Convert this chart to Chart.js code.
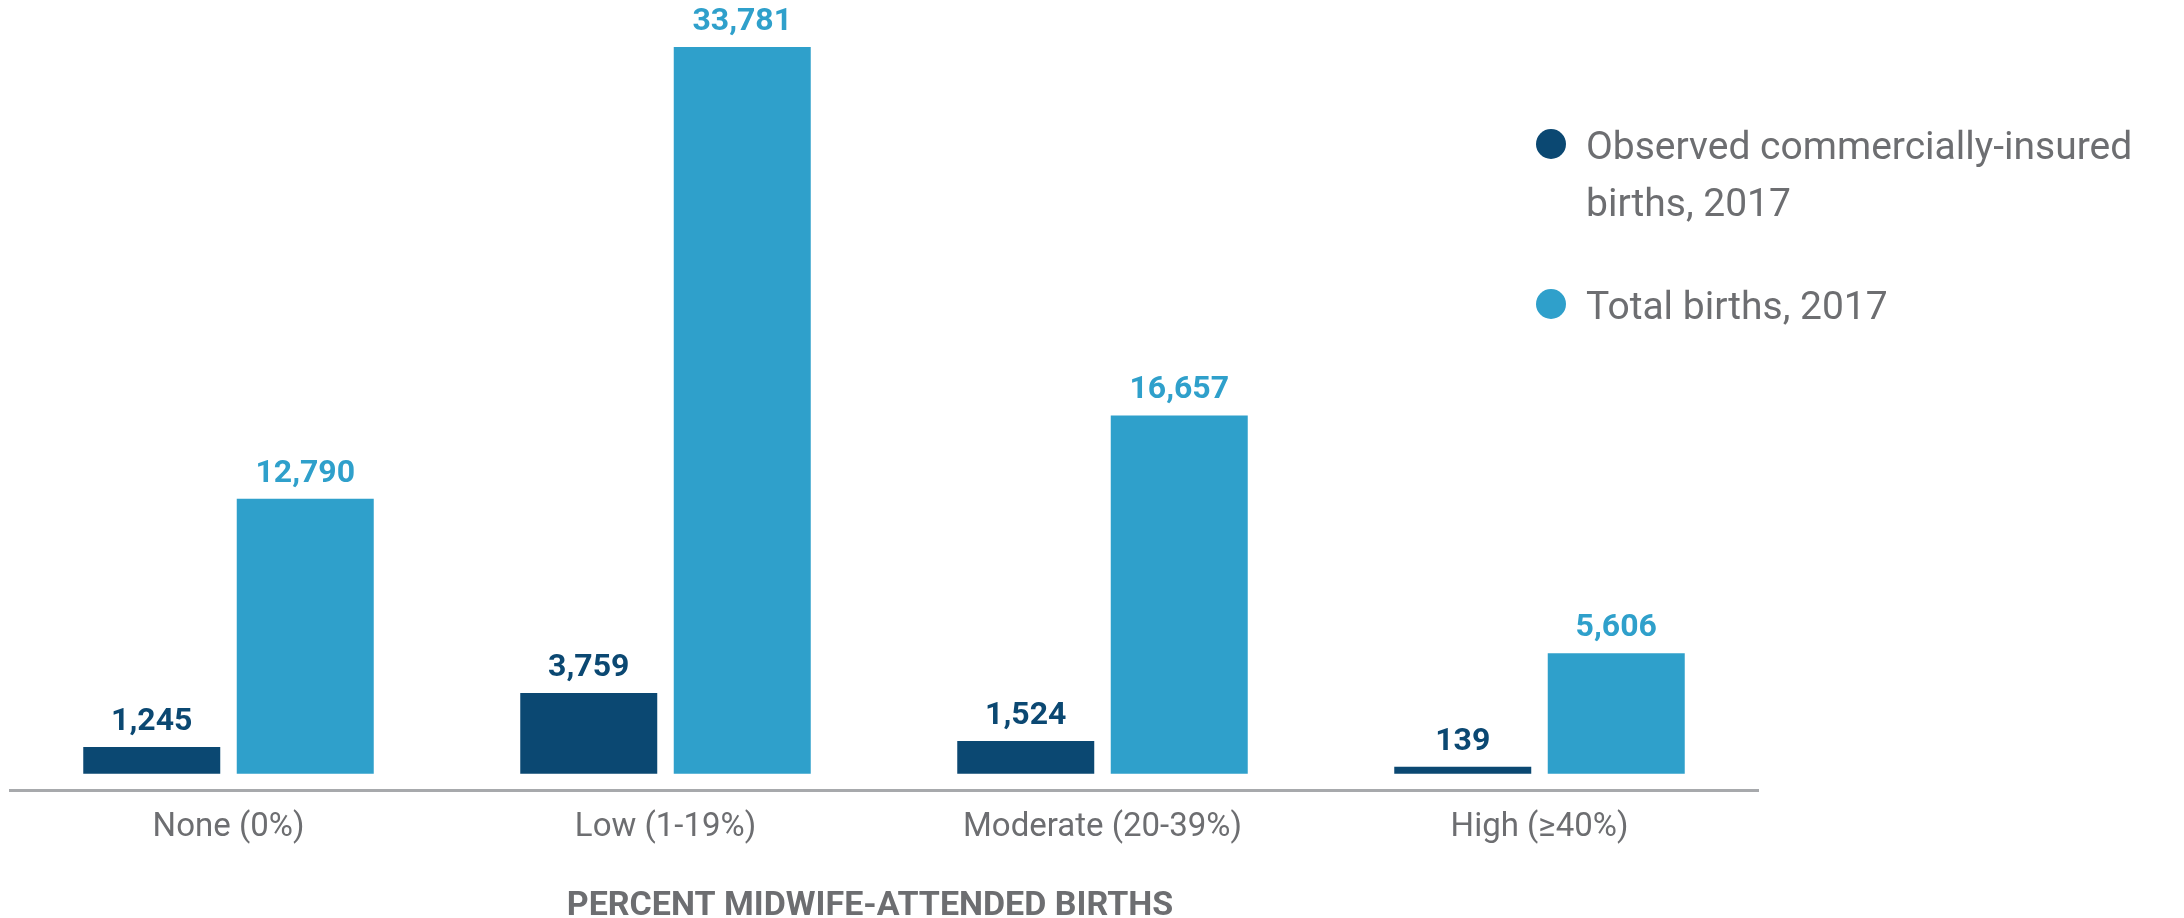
<!DOCTYPE html>
<html>
<head>
<meta charset="utf-8">
<script src="https://cdn.jsdelivr.net/npm/chart.js@4"></script>
<style>
    body { margin: 0; background: #fff; }
    #wrap { width: 2184px; height: 918px; position: relative; }
</style>
</head>
<body>
<div id="wrap"><canvas id="chart"></canvas></div>
<script>
const categories = ["None (0%)", "Low (1-19%)", "Moderate (20-39%)", "High (\u226540%)"];
const observedBirths = [1245, 3759, 1524, 139];
const totalBirths = [12790, 33781, 16657, 5606];
const seriesNames = ["Observed commercially-insured births, 2017", "Total births, 2017"];
const axisTitle = "PERCENT MIDWIFE-ATTENDED BIRTHS";

const darkBlue = "#0b4872";
const lightBlue = "#2fa0cb";
const gray = "#6d6e71";

// numbers above each bar, same colour as the bar
const valueLabels = {
    id: "valueLabels",
    afterDatasetsDraw(chart) {
        const ctx = chart.ctx;
        ctx.save();
        ctx.font = "bold 32px Roboto";
        ctx.textAlign = "center";
        ctx.textBaseline = "alphabetic";
        chart.data.datasets.forEach((ds, i) => {
            const meta = chart.getDatasetMeta(i);
            ctx.fillStyle = ds.backgroundColor;
            meta.data.forEach((bar, j) => {
                ctx.fillText(ds.data[j].toLocaleString("en-US"), bar.x, bar.y - 17);
            });
        });
        ctx.restore();
    }
};

// axis title under the category labels, a bit left of centre
const bottomTitle = {
    id: "bottomTitle",
    afterDraw(chart) {
        const ctx = chart.ctx;
        const area = chart.chartArea;
        ctx.save();
        ctx.font = "bold 34px Roboto";
        ctx.fillStyle = gray;
        ctx.textAlign = "center";
        ctx.textBaseline = "alphabetic";
        ctx.fillText(axisTitle, (area.left + area.right) / 2 - 14, 915);
        ctx.restore();
    }
};

// legend with round markers, wrapped text, top right
const dotLegend = {
    id: "dotLegend",
    afterDraw(chart) {
        const ctx = chart.ctx;
        const maxWidth = 570;
        const lineGap = 57;
        let y = 159;
        ctx.save();
        ctx.font = "39px Roboto";
        ctx.textBaseline = "alphabetic";
        chart.data.datasets.forEach(ds => {
            // simple word wrap
            const words = ds.label.split(" ");
            const lines = [];
            let line = "";
            words.forEach(w => {
                const test = line ? line + " " + w : w;
                if (ctx.measureText(test).width > maxWidth && line) {
                    lines.push(line);
                    line = w;
                } else {
                    line = test;
                }
            });
            lines.push(line);

            ctx.fillStyle = ds.backgroundColor;
            ctx.beginPath();
            ctx.arc(1551, y - 15, 15, 0, Math.PI * 2);
            ctx.fill();

            ctx.fillStyle = gray;
            lines.forEach((l, k) => ctx.fillText(l, 1586, y + k * lineGap));
            y += lines.length * lineGap + 46;
        });
        ctx.restore();
    }
};

const ctx = document.getElementById("chart").getContext("2d");
const chart = new Chart(ctx, {
    type: "bar",
    data: {
        labels: categories,
        datasets: [
            {
                label: seriesNames[0],
                data: observedBirths,
                backgroundColor: darkBlue,
                minBarLength: 7
            },
            {
                label: seriesNames[1],
                data: totalBirths,
                backgroundColor: lightBlue
            }
        ]
    },
    options: {
        responsive: true,
        maintainAspectRatio: false,
        animation: false,
        categoryPercentage: 0.7025,
        barPercentage: 0.8925,
        layout: { padding: { top: 10, left: 10, right: 426, bottom: 0 } },
        plugins: {
            legend: { display: false },
            tooltip: { enabled: false }
        },
        scales: {
            x: {
                grid: { display: false },
                border: { display: true, color: "#a7a9ac", width: 3 },
                ticks: {
                    color: gray,
                    font: { family: "Roboto", size: 33 },
                    padding: 10,
                    maxRotation: 0
                },
                afterFit(scale) {
                    scale.height = 128;
                }
            },
            y: {
                display: false,
                min: -750,
                max: 35500
            }
        }
    },
    plugins: [valueLabels, bottomTitle, dotLegend]
});
</script>
</body>
</html>
